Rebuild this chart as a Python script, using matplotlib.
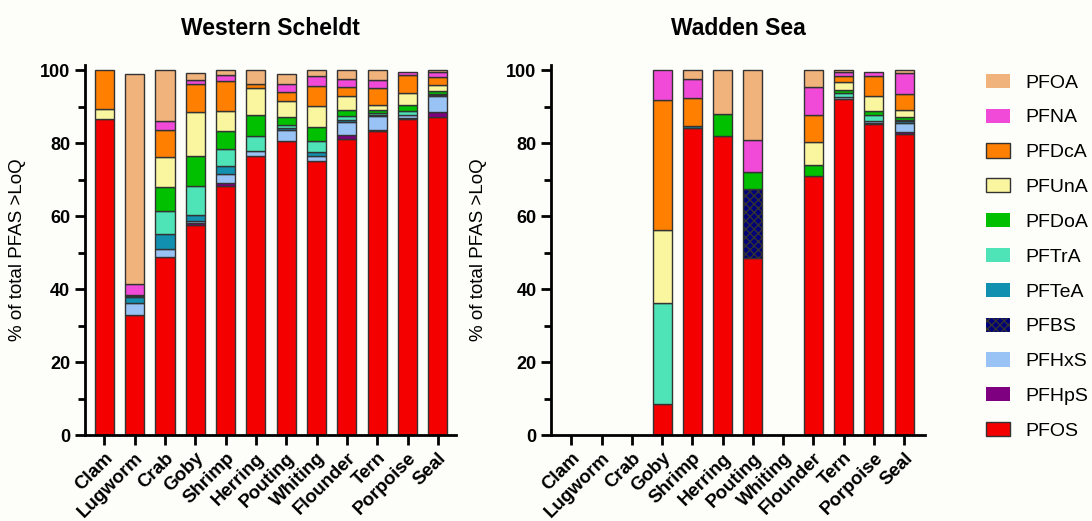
import numpy as np
import matplotlib
matplotlib.use('Agg')
import matplotlib.pyplot as plt
from matplotlib.ticker import MultipleLocator

plt.rcParams['font.family'] = ['Liberation Sans', 'DejaVu Sans']
plt.rcParams['hatch.linewidth'] = 1.0

## data (% of total PFAS > LoQ)
species = ['Clam', 'Lugworm', 'Crab', 'Goby', 'Shrimp', 'Herring', 'Pouting',
           'Whiting', 'Flounder', 'Tern', 'Porpoise', 'Seal']
compounds = ['PFOS', 'PFHpS', 'PFHxS', 'PFBS', 'PFTeA', 'PFTrA', 'PFDoA',
             'PFUnA', 'PFDcA', 'PFNA', 'PFOA']   # bottom -> top

# Western Scheldt
ws_PFOS = [86.7, 32.9, 48.7, 57.7, 68.4, 76.4, 80.5, 75.1, 81.2, 83.3, 86.5, 87.1]
ws_PFHpS = [0, 0, 0, 0.5, 0.6, 0, 0, 0, 1.0, 0.4, 0.3, 1.5]
ws_PFHxS = [0, 3.3, 2.3, 0.6, 2.6, 1.4, 3.1, 1.5, 3.6, 3.7, 1.0, 4.3]
ws_PFBS = [0, 0, 0, 0, 0, 0, 0, 0, 0, 0, 0, 0]
ws_PFTeA = [0, 1.6, 4.0, 1.6, 2.2, 0, 0.6, 1.0, 0.6, 0.4, 0, 0.3]
ws_PFTrA = [0, 0.3, 6.5, 7.9, 4.7, 4.2, 0.8, 2.9, 1.0, 0.4, 1.0, 0.4]
ws_PFDoA = [0, 0.3, 6.6, 8.2, 4.9, 5.6, 2.2, 3.9, 1.8, 0.8, 1.6, 0.8]
ws_PFUnA = [2.7, 0, 8.2, 12.0, 5.4, 7.4, 4.3, 5.7, 3.7, 1.6, 3.4, 1.5]
ws_PFDcA = [10.6, 0, 7.3, 7.7, 8.2, 1.1, 2.5, 5.5, 2.4, 4.4, 5.0, 2.2]
ws_PFNA = [0, 3.1, 2.6, 1.0, 1.6, 0, 2.2, 2.8, 2.4, 2.4, 0.7, 1.4]
ws_PFOA = [0, 57.6, 13.8, 2.0, 1.4, 3.9, 2.9, 1.6, 2.3, 2.6, 0, 0.5]

# Wadden Sea
wd_PFOS = [0, 0, 0, 8.4, 84.2, 81.9, 48.5, 0, 70.9, 92.1, 85.3, 82.6]
wd_PFHpS = [0, 0, 0, 0, 0, 0, 0, 0, 0, 0, 0.3, 0.5]
wd_PFHxS = [0, 0, 0, 0, 0, 0, 0, 0, 0, 0.5, 0.6, 2.5]
wd_PFBS = [0, 0, 0, 0, 0, 0, 18.9, 0, 0, 0, 0, 0]
wd_PFTeA = [0, 0, 0, 0, 0.4, 0, 0, 0, 0, 0, 0, 0.4]
wd_PFTrA = [0, 0, 0, 27.8, 0, 0, 0, 0, 0, 1.2, 1.4, 0.4]
wd_PFDoA = [0, 0, 0, 0, 0, 6.0, 4.6, 0, 3.2, 0.9, 1.2, 0.7]
wd_PFUnA = [0, 0, 0, 19.9, 0, 0, 0, 0, 6.1, 2.2, 4.2, 1.9]
wd_PFDcA = [0, 0, 0, 35.7, 7.8, 0, 0, 0, 7.4, 1.6, 5.4, 4.6]
wd_PFNA = [0, 0, 0, 8.2, 5.3, 0, 9.0, 0, 7.7, 1.0, 1.1, 5.7]
wd_PFOA = [0, 0, 0, 0, 2.3, 12.1, 19.0, 0, 4.7, 0.5, 0, 0.7]

ws = [ws_PFOS, ws_PFHpS, ws_PFHxS, ws_PFBS, ws_PFTeA, ws_PFTrA, ws_PFDoA,
      ws_PFUnA, ws_PFDcA, ws_PFNA, ws_PFOA]
wd = [wd_PFOS, wd_PFHpS, wd_PFHxS, wd_PFBS, wd_PFTeA, wd_PFTrA, wd_PFDoA,
      wd_PFUnA, wd_PFDcA, wd_PFNA, wd_PFOA]

colors = {'PFOS': '#f50000', 'PFHpS': '#7e0080', 'PFHxS': '#99c3f5',
          'PFBS': '#00007a', 'PFTeA': '#1190b0', 'PFTrA': '#4fe3b8',
          'PFDoA': '#00c000', 'PFUnA': '#faf6a0', 'PFDcA': '#ff8000',
          'PFNA': '#f24ad8', 'PFOA': '#f0b37c'}

bg = '#fdfdf9'
fig = plt.figure(figsize=(10.92, 5.21), dpi=100, facecolor=bg)
ax1 = fig.add_axes([0.0778, 0.165, 0.3398, 0.710])
ax2 = fig.add_axes([0.5046, 0.165, 0.3425, 0.710])

def draw(ax, series, title, xlim, label_x):
    x = np.arange(len(species))
    bottom = np.zeros(len(species))
    handles = []
    for name, vals in zip(compounds, series):
        vals = np.array(vals, dtype=float)
        lw = [1.0 if v > 0 else 0 for v in vals]
        b = ax.bar(x, vals, 0.63, bottom=bottom, color=colors[name],
                   edgecolor='#333333', linewidth=lw,
                   hatch='xxxx' if name == 'PFBS' else None, label=name)
        handles.append(b)
        bottom += vals
    ax.set_facecolor(bg)
    ax.set_xlim(*xlim)
    ax.set_ylim(0, 101.4)
    ax.set_yticks([0, 20, 40, 60, 80, 100])
    ax.yaxis.set_minor_locator(MultipleLocator(10))
    ax.set_xticks(x)
    ax.set_xticklabels(species, rotation=45, ha='right', rotation_mode='anchor',
                       fontsize=13.5, fontweight='bold')
    for t in ax.get_yticklabels():
        t.set_fontweight('bold')
        t.set_fontsize(13)
    ax.tick_params(axis='both', which='major', direction='out', length=7, width=2)
    ax.tick_params(axis='y', which='minor', direction='out', length=5, width=2)
    ax.tick_params(axis='x', which='minor', length=0)
    for s in ['top', 'right']:
        ax.spines[s].set_visible(False)
    for s in ['left', 'bottom']:
        ax.spines[s].set_linewidth(2)
    ax.set_ylabel('% of total PFAS >LoQ', fontsize=13.5)
    ax.yaxis.set_label_coords(label_x, 0.5)
    ax.set_title(title, fontsize=16.5, fontweight='bold', pad=22)
    return handles

handles = draw(ax1, ws, 'Western Scheldt', (-0.64, 11.6), -0.159)
draw(ax2, wd, 'Wadden Sea', (-0.67, 11.69), -0.171)

# legend: top-to-bottom order
fig.legend(handles[::-1], compounds[::-1], loc='upper left',
           bbox_to_anchor=(0.887, 0.892), frameon=False, fontsize=14,
           labelspacing=0.87, handlelength=1.25, handleheight=0.75,
           handletextpad=0.75)

fig.savefig('out.png', dpi=100, facecolor=bg)
